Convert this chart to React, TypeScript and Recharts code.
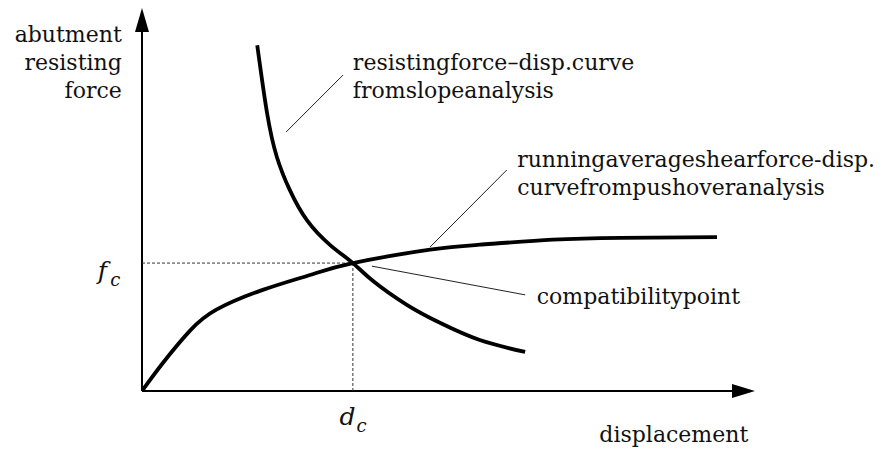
import React from "react";
import { LineChart, Line, XAxis, YAxis, ReferenceLine, ReferenceDot } from "recharts";

// displacement / force in arbitrary units (0..10 on both axes)
const risingDisp = [0, 0.34, 0.78, 1.22, 1.97, 2.74, 3.44, 4.7, 5.51, 6.7, 7.8, 9.38];
const risingForce = [0, 0.73, 1.57, 2.13, 2.64, 3.03, 3.34, 3.69, 3.82, 3.95, 4.0, 4.02];

const fallingDisp = [1.88, 2.04, 2.2, 2.41, 2.69, 3.07, 3.44, 3.77, 4.32, 4.86, 5.51, 6.25];
const fallingForce = [9.03, 7.26, 6.11, 5.25, 4.46, 3.81, 3.34, 2.87, 2.25, 1.78, 1.33, 1.02];

const compatPoint = { x: 3.44, y: 3.34 };

// leader lines [x1, y1, x2, y2]
const leaders = [
  [3.28, 8.25, 2.35, 6.76],
  [5.95, 5.77, 4.7, 3.76],
  [3.75, 3.26, 6.25, 2.51],
];

const yTitle = ["abutment", "resisting", "force"];
const slopeLabel = ["resistingforce–disp.curve", "fromslopeanalysis"];
const pushLabel = ["runningaverageshearforce-disp.", "curvefrompushoveranalysis"];
const compatLabel = ["compatibilitypoint"];
const xTitle = ["displacement"];

const rising = risingDisp.map((d, i) => ({ d: d, f: risingForce[i] }));
const falling = fallingDisp.map((d, i) => ({ d: d, f: fallingForce[i] }));

const FONT = "'DejaVu Serif', serif";

const textShape = (lines: string[], anchor: "start" | "end") => (props: any) => (
  <text x={props.cx} y={props.cy} textAnchor={anchor} fontFamily={FONT} fontSize={22} fill="#111">
    {lines.map((l, i) => (
      <tspan key={i} x={props.cx} dy={i === 0 ? 0 : 28}>
        {l}
      </tspan>
    ))}
  </text>
);

const subShape = (main: string, sub: string, gap: number) => (props: any) => (
  <text x={props.cx} y={props.cy} fontFamily={FONT} fontStyle="italic" fill="#111">
    <tspan fontSize={25}>{main}</tspan>
    <tspan fontSize={18} dx={gap} dy={7}>
      {sub}
    </tspan>
  </text>
);

const arrowUp = (props: any) => (
  <polygon
    points={`${props.cx},${props.cy} ${props.cx - 7},${props.cy + 24} ${props.cx + 7},${props.cy + 24}`}
    fill="#000"
  />
);
const arrowRight = (props: any) => (
  <polygon
    points={`${props.cx},${props.cy} ${props.cx - 23},${props.cy - 7} ${props.cx - 23},${props.cy + 7}`}
    fill="#000"
  />
);

export default function App() {
  return (
    <div style={{ position: "absolute", left: 0, top: 0, background: "#fff" }}>
      <LineChart width={883} height={450} margin={{ top: 8, right: 128, left: 142, bottom: 59 }}>
        <XAxis type="number" dataKey="d" domain={[0, 10]} hide allowDataOverflow />
        <YAxis type="number" dataKey="f" domain={[0, 10]} hide allowDataOverflow />

        {/* axes */}
        <ReferenceLine segment={[{ x: 0, y: 0 }, { x: 0, y: 9.6 }]} stroke="#000" strokeWidth={2} ifOverflow="visible" />
        <ReferenceLine segment={[{ x: 0, y: 0 }, { x: 9.7, y: 0 }]} stroke="#000" strokeWidth={2} ifOverflow="visible" />
        <ReferenceDot x={0} y={10} r={0} shape={arrowUp} ifOverflow="visible" />
        <ReferenceDot x={10} y={0} r={0} shape={arrowRight} ifOverflow="visible" />

        {/* compatibility point guides */}
        <ReferenceLine
          segment={[{ x: 0, y: compatPoint.y }, { x: compatPoint.x, y: compatPoint.y }]}
          stroke="#333"
          strokeWidth={1}
          strokeDasharray="3 2"
          ifOverflow="visible"
        />
        <ReferenceLine
          segment={[{ x: compatPoint.x, y: 0 }, { x: compatPoint.x, y: compatPoint.y }]}
          stroke="#333"
          strokeWidth={1}
          strokeDasharray="3 2"
          ifOverflow="visible"
        />

        {leaders.map((s, i) => (
          <ReferenceLine
            key={i}
            segment={[{ x: s[0], y: s[1] }, { x: s[2], y: s[3] }]}
            stroke="#222"
            strokeWidth={1}
            ifOverflow="visible"
          />
        ))}

        <Line data={rising} dataKey="f" type="natural" stroke="#000" strokeWidth={3.8} dot={false} isAnimationActive={false} />
        <Line data={falling} dataKey="f" type="natural" stroke="#000" strokeWidth={3.8} dot={false} isAnimationActive={false} />

        {/* labels */}
        <ReferenceDot x={-0.33} y={9.11} r={0} shape={textShape(yTitle, "end")} ifOverflow="visible" />
        <ReferenceDot x={3.44} y={8.38} r={0} shape={textShape(slopeLabel, "start")} ifOverflow="visible" />
        <ReferenceDot x={6.12} y={5.85} r={0} shape={textShape(pushLabel, "start")} ifOverflow="visible" />
        <ReferenceDot x={6.44} y={2.27} r={0} shape={textShape(compatLabel, "start")} ifOverflow="visible" />
        <ReferenceDot x={9.89} y={-1.33} r={0} shape={textShape(xTitle, "end")} ifOverflow="visible" />
        <ReferenceDot x={-0.72} y={2.92} r={0} shape={subShape("f", "c", 3)} ifOverflow="visible" />
        <ReferenceDot x={3.22} y={-0.89} r={0} shape={subShape("d", "c", 1)} ifOverflow="visible" />
      </LineChart>
    </div>
  );
}
